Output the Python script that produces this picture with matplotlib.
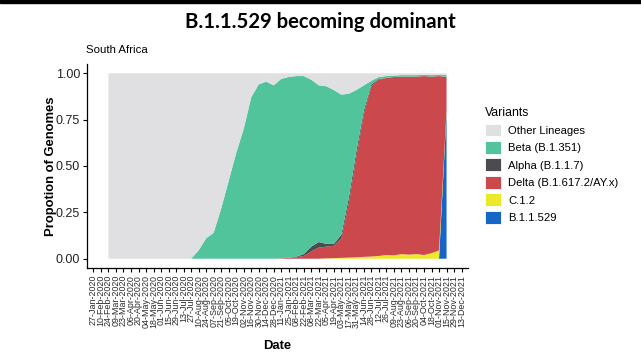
import matplotlib

matplotlib.use("Agg")
import matplotlib.pyplot as plt
import pandas as pd
from matplotlib.patches import Patch, Rectangle

# fortnightly sample dates, 24-Feb-2020 .. 15-Nov-2021
dates = pd.date_range("2020-02-24", periods=46, freq="14D")
tick_dates = pd.date_range("2020-01-27", "2021-12-13", freq="14D")

other = [1, 1, 1, 1, 1, 1, 1, 1, 1, 1, 1, 1,
         0.955, 0.89, 0.86, 0.73, 0.58, 0.43, 0.30, 0.13, 0.06, 0.045, 0.065,
         0.03, 0.02, 0.015, 0.015, 0.035, 0.065, 0.07, 0.09, 0.115, 0.11, 0.09,
         0.065, 0.04, 0.02, 0.015, 0.012, 0.01, 0.01, 0.01, 0.008, 0.01, 0.008, 0.01]
beta = [0, 0, 0, 0, 0, 0, 0, 0, 0, 0, 0, 0,
        0.045, 0.11, 0.14, 0.27, 0.42, 0.57, 0.70, 0.87, 0.94, 0.955, 0.935,
        0.968, 0.975, 0.974, 0.96, 0.90, 0.845, 0.85, 0.83, 0.755, 0.56, 0.33,
        0.135, 0.02, 0.01, 0.01, 0.008, 0.008, 0.008, 0.008, 0.007, 0.008, 0.007, 0.01]
alpha = [0, 0, 0, 0, 0, 0, 0, 0, 0, 0, 0, 0, 0, 0, 0, 0, 0, 0, 0, 0, 0, 0, 0, 0, 0,
         0.003, 0.01, 0.025, 0.03, 0.015, 0.01, 0.02, 0.03, 0.03, 0.02, 0.01, 0.005,
         0, 0, 0, 0, 0, 0, 0, 0, 0]
delta = [0, 0, 0, 0, 0, 0, 0, 0, 0, 0, 0, 0, 0, 0, 0, 0, 0, 0, 0, 0, 0, 0, 0,
         0.002, 0.005, 0.008, 0.015, 0.04, 0.06, 0.063, 0.067, 0.105, 0.294, 0.542,
         0.77, 0.918, 0.95, 0.955, 0.962, 0.957, 0.96, 0.957, 0.965, 0.952, 0.94, 0.18]
c12 = [0, 0, 0, 0, 0, 0, 0, 0, 0, 0, 0, 0, 0, 0, 0, 0, 0, 0, 0, 0, 0, 0, 0, 0, 0,
       0, 0, 0, 0,
       0.002, 0.003, 0.005, 0.006, 0.008, 0.01, 0.012, 0.015, 0.02, 0.018, 0.025,
       0.022, 0.025, 0.02, 0.03, 0.045, 0.01]
omicron = [0] * 45 + [0.79]

variants = ["Other Lineages", "Beta (B.1.351)", "Alpha (B.1.1.7)",
            "Delta (B.1.617.2/AY.x)", "C.1.2", "B.1.1.529"]
colors = ["#e0dfe2", "#52c49c", "#4b4b50", "#cb484d", "#ece92a", "#1666c8"]

plt.rcParams["font.family"] = ["Liberation Sans", "DejaVu Sans"]

W, H = 641, 357
fig = plt.figure(figsize=(W / 100, H / 100), dpi=100)
fig.patches.append(Rectangle((0, 1 - 2.5 / H), 1, 2.5 / H, transform=fig.transFigure,
                             color="black"))

ax = fig.add_axes([87 / W, 1 - 268 / H, (468 - 87) / W, (268 - 64) / H])
series = [omicron, c12, delta, alpha, beta, other]
ax.stackplot(dates, series, colors=colors[::-1], lw=0)

ax.set_xlim(pd.Timestamp("2020-01-15"), pd.Timestamp("2021-12-25"))
ax.set_ylim(-0.05, 1.05)
ax.set_yticks([0, 0.25, 0.5, 0.75, 1.0])
ax.set_yticklabels(["0.00", "0.25", "0.50", "0.75", "1.00"], fontsize=9, color="#222222")
ax.set_xticks(tick_dates)
ax.set_xticklabels([d.strftime("%d-%b-%Y") for d in tick_dates], rotation=90,
                   fontsize=6.4, color="#2a2a2a")
ax.tick_params(length=3, width=0.8, pad=2)
for s in ("top", "right"):
    ax.spines[s].set_visible(False)
for s in ("left", "bottom"):
    ax.spines[s].set_linewidth(0.9)

ax.set_ylabel("Propotion of Genomes", fontsize=9.4, fontweight="bold")
ax.yaxis.set_label_coords((57 - 87) / 381, 0.5)
ax.set_xlabel("Date", fontsize=9.4, fontweight="bold", labelpad=9)

fig.text(86 / W, 1 - 50 / H, "South Africa", fontsize=8.2, va="center", ha="left")
fig.text(0.5, 1 - 22 / H, "B.1.1.529 becoming dominant", fontsize=14.6,
         fontweight="bold", family="Lato", ha="center", va="center")

handles = [Patch(facecolor=c, edgecolor="white", lw=0.6) for c in colors]
leg = fig.legend(handles, variants, loc="upper left",
                 bbox_to_anchor=(485 / W, 1 - 107 / H), frameon=False,
                 fontsize=8.1, title="Variants", title_fontsize=8.8,
                 alignment="left", handlelength=1.45, handleheight=1.4,
                 labelspacing=0.4, handletextpad=0.6, borderpad=0, borderaxespad=0)

fig.savefig("out.png", dpi=100)
